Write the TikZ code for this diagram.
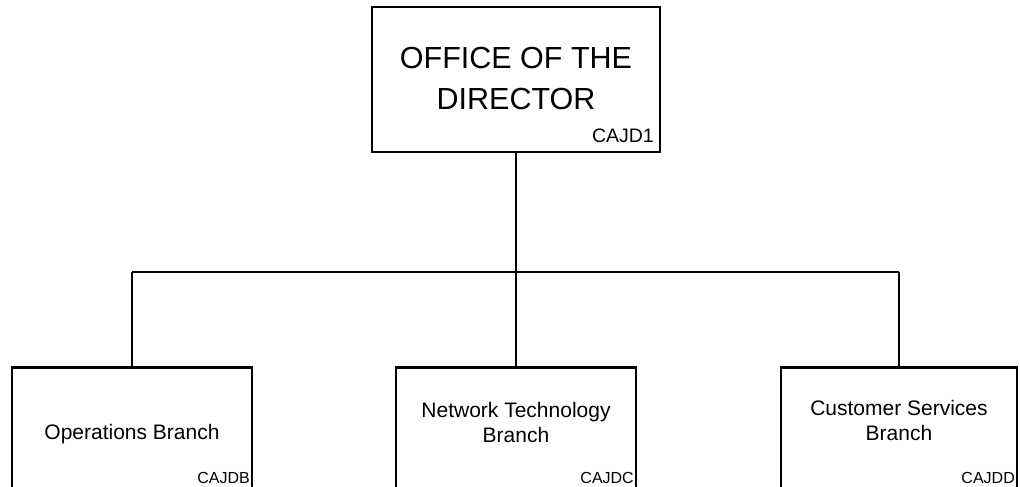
\documentclass[tikz,border=0pt]{standalone}
\usepackage{fontspec}
\setmainfont{Liberation Sans}
\begin{document}
\begin{tikzpicture}[x=1pt,y=-1pt,
  box/.style={draw=black,line width=2.8pt,rectangle,inner sep=0pt},
  link/.style={draw=black,line width=2.8pt},
  bigtxt/.style={inner sep=0pt,align=center,font=\fontsize{30.5}{40}\selectfont},
  midtxt/.style={inner sep=0pt,align=center,font=\fontsize{21}{25}\selectfont},
  code/.style={inner sep=0pt,anchor=base east,font=\fontsize{16}{18}\selectfont},
  topcode/.style={inner sep=0pt,anchor=base east,font=\fontsize{19.5}{22}\selectfont}]
\useasboundingbox (0,0) rectangle (1020,487);
% boxes
\node[box,minimum width=288pt,minimum height=145pt] (dir) at (516,79.5) {};
\node[box,minimum width=240pt,minimum height=140pt] (ops) at (132,437.5) {};
\node[box,minimum width=240pt,minimum height=140pt] (net) at (516,437.5) {};
\node[box,minimum width=236pt,minimum height=140pt] (cus) at (899,437.5) {};
% texts (base anchor = baseline of the last line)
\node[bigtxt,anchor=base] (dirtxt) at (516,109) {OFFICE OF THE\\DIRECTOR};
\node[topcode] (dircode) at (654,142) {CAJD1};
\node[midtxt,anchor=base] (opstxt) at (132,439) {Operations Branch};
\node[midtxt,anchor=base] (nettxt) at (516,442) {Network Technology\\Branch};
\node[midtxt,anchor=base] (custxt) at (899,440) {Customer Services\\Branch};
\node[code] (opscode) at (250,483) {CAJDB};
\node[code] (netcode) at (634,483) {CAJDC};
\node[code] (cuscode) at (1015,483) {CAJDD};
% connectors
\coordinate (jL) at (132,272);
\coordinate (jM) at (516,272);
\coordinate (jR) at (899,272);
\draw[link] (dir.south) -- (jM);
\draw[link] (jL) -- (jR);
\draw[link] (jL) -- (ops.north);
\draw[link] (jM) -- (net.north);
\draw[link] (jR) -- (cus.north);
\end{tikzpicture}
\end{document}
